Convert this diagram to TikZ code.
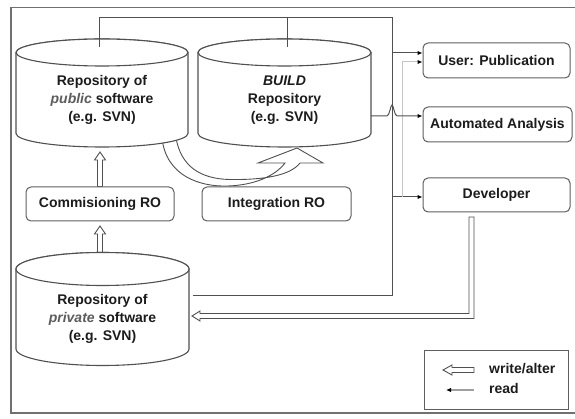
\documentclass[tikz,border=0pt]{standalone}
\usepackage{fontspec}
\setmainfont{Liberation Sans}
\usetikzlibrary{arrows.meta,calc}
\definecolor{linegray}{HTML}{505050}
\definecolor{boxgray}{HTML}{5E5E5E}
\definecolor{txt}{HTML}{1C1C1C}
\definecolor{softtxt}{HTML}{5C5C5C}
\definecolor{lightline}{HTML}{C4C4C4}
\definecolor{framegray}{HTML}{707070}
\definecolor{legread}{HTML}{A0A0A0}
\tikzset{
  box/.style={draw=boxgray, line width=1pt, rounded corners=5pt, fill=white,
    font=\bfseries\fontsize{14}{17}\selectfont, text=txt, inner sep=0pt},
  legendbox/.style={draw=boxgray, line width=1pt, fill=white, inner sep=0pt},
  cyltext/.style={align=center, font=\bfseries\fontsize{14}{18}\selectfont, text=txt, inner sep=0pt},
  legtext/.style={anchor=west, font=\bfseries\fontsize{14}{17}\selectfont, text=txt, inner sep=0pt},
  cylstyle/.style={draw=linegray, line width=1.1pt, fill=white},
  readline/.style={draw=linegray, line width=1pt},
  readarrow/.style={readline, -{Latex[length=5pt,width=4.5pt,color=black]}},
  faintline/.style={draw=lightline, line width=1pt, -{Latex[length=5pt,width=4.5pt,color=black]}},
  hollow/.style={draw=linegray, line width=0.9pt, fill=white, line join=miter},
  frameline/.style={draw=framegray, line width=1.5pt},
}
\newcommand\mycyl[5]{% cx, top cy, bottom cy, rx, ry
  \filldraw[cylstyle] (#1-#4,#2) -- (#1-#4,#3)
    arc[start angle=180,end angle=360,x radius=#4pt,y radius=#5pt]
    -- (#1+#4,#2) arc[start angle=0,end angle=180,x radius=#4pt,y radius=#5pt] -- cycle;
  \draw[cylstyle] (#1,#2) ellipse[x radius=#4pt, y radius=#5pt];}
\newcommand\hollowup[2]{% base, tip
  \draw[hollow] ($(#1)+(-2.5,0)$) -- ($(#2)+(-2.5,8)$) -- ($(#2)+(-5.5,8)$) -- (#2)
    -- ($(#2)+(5.5,8)$) -- ($(#2)+(2.5,8)$) -- ($(#1)+(2.5,0)$) -- cycle;}
\begin{document}
\begin{tikzpicture}[x=1pt,y=-1pt]
\useasboundingbox (0,0) rectangle (575,419);
% frame
\draw[frameline] (576,7.5) -- (11,7.5) -- (11,413) -- (576,413);

% coordinates
\coordinate (pubin) at (99,47);
\coordinate (buildin) at (287,47);
\coordinate (tt) at (392,18);
\coordinate (tb) at (392,295.5);
\coordinate (privout) at (193,295.5);
\coordinate (ua) at (392,53);
\coordinate (da) at (392,197);
\coordinate (lb) at (402,197);
\coordinate (lt) at (402,62);
\coordinate (bout) at (371,116);
\coordinate (a1b) at (100,186.5);
\coordinate (a1t) at (100,152);
\coordinate (a2b) at (100,258);
\coordinate (a2t) at (100,226);

% integration curved hollow arrow
\draw[hollow] (162,138) .. controls (166,176) and (200,187) .. (228,186)
  .. controls (255,185) and (275,176) .. (285,163) -- (258,163) -- (297,148)
  -- (323,163) -- (300,163) .. controls (290,176) and (262,180) .. (230,179.5)
  .. controls (200,179) and (181,166) .. (176,138) -- cycle;

% vertical hollow arrows
\hollowup{a1b}{a1t}
\hollowup{a2b}{a2t}

% cylinders
\mycyl{102}{52.5}{133.5}{86}{13.5}
\mycyl{284.5}{52.5}{133.5}{86.5}{13.5}
\mycyl{102.5}{269}{349}{86.5}{16.5}

\node[cyltext] (pub) at (102,100) {Repository of\\\textcolor{softtxt}{\textit{public}} software\\(e.g. SVN)};
\node[cyltext] (build) at (284.5,100) {\textit{BUILD}\\Repository\\(e.g. SVN)};
\node[cyltext] (priv) at (102.5,319) {Repository of\\\textcolor{softtxt}{\textit{private}} software\\(e.g. SVN)};

% boxes
\node[box, minimum width=148pt, minimum height=34pt] (comm) at (100,204) {Commisioning RO};
\node[box, minimum width=149pt, minimum height=34pt] (integ) at (276.5,204) {Integration RO};
\node[box, minimum width=147pt, minimum height=35pt] (user) at (496.5,60.5) {User: Publication};
\node[box, minimum width=149pt, minimum height=35pt] (auto) at (497.5,124.5) {Automated Analysis};
\node[box, minimum width=147pt, minimum height=34pt] (dev) at (496.5,195) {Developer};

% read connections
\draw[readline] (pubin) |- (tt) -- (tb) -- (privout);
\draw[readline] (buildin) -- (buildin |- tt);
\draw[readarrow] (ua) -- (ua -| user.west);
\draw[readarrow] (da) -- (da -| dev.west);
\draw[faintline] (lb) -- (lt) -- (lt -| user.west);
\draw[readarrow] (bout) -- (387,116) .. controls (389.5,116) and (390.5,105) .. (392,105)
  .. controls (393.5,105) and (394.5,116) .. (397,116) -- (bout -| auto.west);

% developer write arrow to private repository
\draw[hollow] (469,217) -- (469,313.5) -- (200,313.5) -- (200,311) -- (192,316)
  -- (200,321) -- (200,318.5) -- (474,318.5) -- (474,217) -- cycle;

% legend
\node[legendbox, minimum width=144pt, minimum height=59pt] (legend) at (496,379.5) {};
\coordinate (lwb) at (474,370);
\coordinate (lwt) at (443,370);
\draw[hollow] (lwb) ++(0,-2.5) -- (452,367.5) -- (452,365) -- (lwt) -- (452,375) -- (452,372.5) -- (474,372.5) -- cycle;
\node[legtext] (lw) at (489,369) {write/alter};
\coordinate (lrb) at (474,390);
\coordinate (lrt) at (446,390);
\draw[draw=legread, line width=1.2pt, -{Latex[length=5pt,width=4.5pt,color=black]}] (lrb) -- (lrt);
\node[legtext] (lr) at (489,388) {read};
\end{tikzpicture}
\end{document}
